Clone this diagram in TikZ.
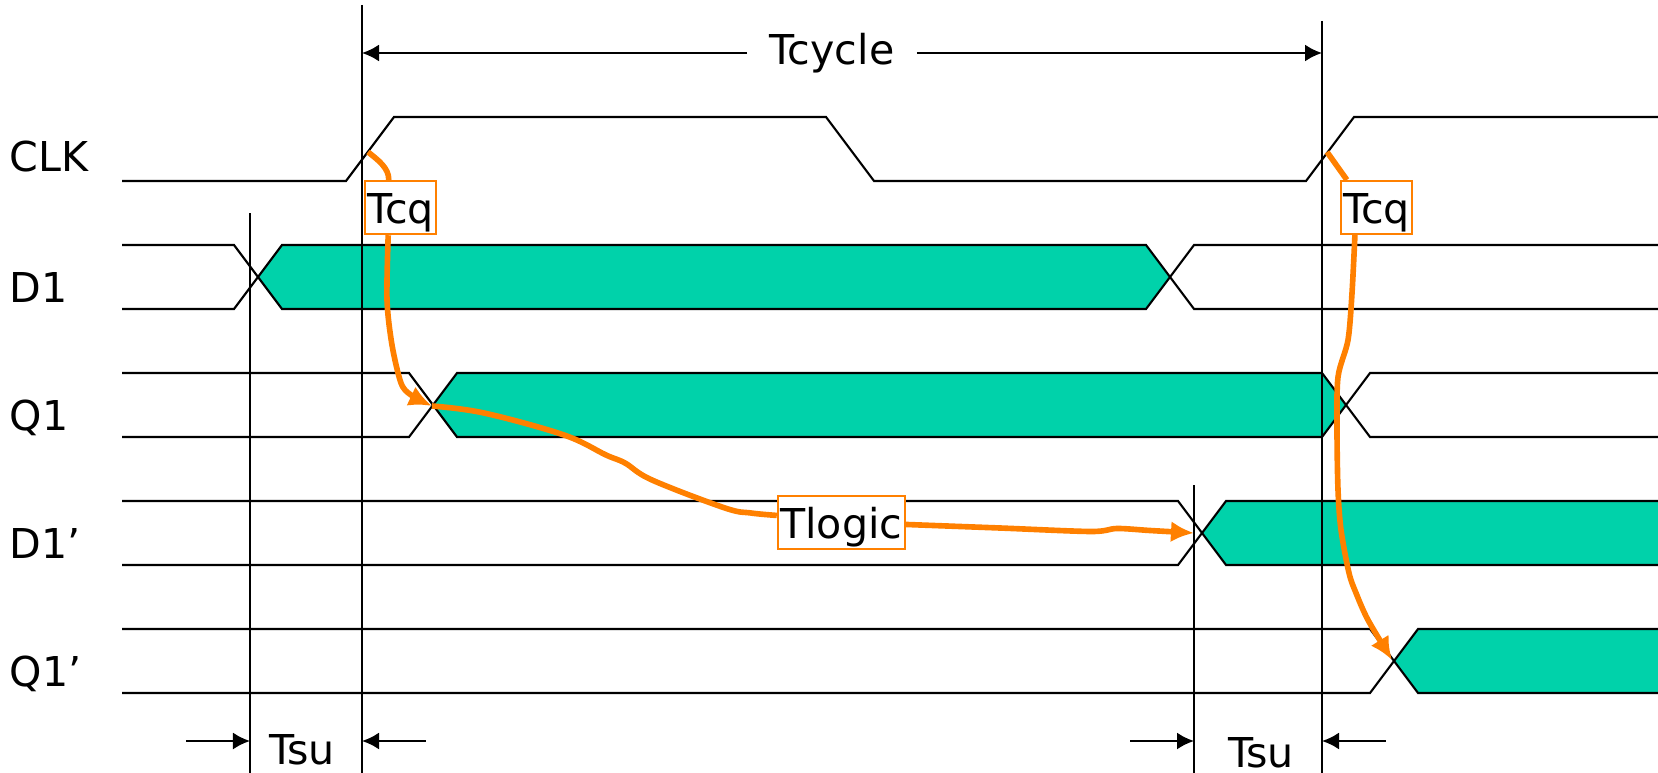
\documentclass[tikz,border=0pt]{standalone}
\usepackage{fontspec}
\setmainfont{DejaVu Sans}
\usetikzlibrary{arrows.meta}
\definecolor{busgreen}{RGB}{0, 210, 170}
\definecolor{delayorange}{RGB}{255, 128, 0}
\tikzset{>={Latex[length=0.17cm, width=0.17cm]}}
\tikzset{
    trace/.style={line width=0.6pt},
    lbl/.style={anchor=base west, inner sep=0pt},
    tbox/.style={draw=delayorange, line width=0.55pt, fill=white, inner xsep=0.025cm, inner ysep=0pt, text height=0.43cm, text depth=0.103cm},
    tpath/.style={delayorange, line width=1.6pt},
    tarrow/.style={-{Latex[length=0.23cm, width=0.21cm]}}
}

\begin{document}
\begin{tikzpicture}[x=0.01cm, y=-0.01cm, font=\fontsize{11.7}{14}\selectfont]
    \useasboundingbox(0, 0)rectangle(1658, 773);
    % bus contents
    \fill[busgreen](258, 277)--(282, 245)--(1146, 245)--(1170, 277)--(1146, 309)--(282, 309)--cycle;
    \fill[busgreen](433, 405)--(457, 373)--(1322, 373)--(1346, 405)--(1322, 437)--(457, 437)--cycle;
    \fill[busgreen](1202, 533)--(1226, 501)--(1658, 501)--(1658, 565)--(1226, 565)--cycle;
    \fill[busgreen](1394, 661)--(1418, 629)--(1658, 629)--(1658, 693)--(1418, 693)--cycle;
    % waveforms
    \draw[trace](122, 181)--(346, 181)--(394, 117)--(826, 117)--(874, 181)--(1306, 181)--(1354, 117)--(1658, 117);
    \draw[trace](122, 245)--(234, 245)--(282, 309)--(1146, 309)--(1194, 245)--(1658, 245);
    \draw[trace](122, 309)--(234, 309)--(282, 245)--(1146, 245)--(1194, 309)--(1658, 309);
    \draw[trace](122, 373)--(409, 373)--(457, 437)--(1322, 437)--(1370, 373)--(1658, 373);
    \draw[trace](122, 437)--(409, 437)--(457, 373)--(1322, 373)--(1370, 437)--(1658, 437);
    \draw[trace](122, 501)--(1178, 501)--(1226, 565)--(1658, 565);
    \draw[trace](122, 565)--(1178, 565)--(1226, 501)--(1658, 501);
    \draw[trace](122, 629)--(1370, 629)--(1418, 693)--(1658, 693);
    \draw[trace](122, 693)--(1370, 693)--(1418, 629)--(1658, 629);
    \node[lbl](clk)at(9, 172){CLK};
    \node[lbl](d1)at(9, 302){D1};
    \node[lbl](q1)at(9, 430){Q1};
    \node[lbl](d1p)at(9, 558){D1’};
    \node[lbl](q1p)at(9, 686){Q1’};
    % clock edges and setup limits
    \draw[trace](362, 5)coordinate(va)--(362, 773);
    \draw[trace](1322, 21)coordinate(vb)--(1322, 773);
    \draw[trace](250, 213)coordinate(sua)--(250, 773);
    \draw[trace](1194, 485)coordinate(sub)--(1194, 773);
    \node[inner xsep=0.22cm](tcyc)at(832, 53){Tcycle};
    \draw[trace, ->](tcyc.west)--(tcyc.west-|va);
    \draw[trace, ->](tcyc.east)--(tcyc.east-|vb);
    \coordinate(dimrow)at(0, 741);
    \node[anchor=base, inner sep=0pt](tsua)at(302, 764){Tsu};
    \node[anchor=base, inner sep=0pt](tsub)at(1261, 767){Tsu};
    \draw[trace, <-](sua|-dimrow)--++(-64, 0);
    \draw[trace, <-](va|-dimrow)--++(64, 0);
    \draw[trace, <-](sub|-dimrow)--++(-64, 0);
    \draw[trace, <-](vb|-dimrow)--++(64, 0);
    % delays
    \node[tbox](tcqa)at(400.5, 207.6){Tcq};
    \node[tbox](tcqb)at(1376.5, 207.5){Tcq};
    \node[tbox](tlogic)at(841.2, 522.2){Tlogic};
    \coordinate(cka)at(368, 152);
    \coordinate(ckb)at(1327, 152);
    \coordinate(q1x)at(432, 406);
    \coordinate(d1x)at(1194, 533);
    \coordinate(q1px)at(1392, 660);
    \draw[tpath](cka)..controls(378, 160)and(389, 168)..(tcqa.113);
    \draw[tpath, tarrow]plot[smooth, tension=0.5]coordinates{(tcqa.246) (387, 300) (392, 345) (401, 383) (411, 395) (q1x)};
    \draw[tpath]plot[smooth, tension=0.6]coordinates{(q1x) (484, 413) (564, 435) (606, 455) (625, 463) (652, 480) (725, 508) (751, 513) (tlogic.174)};
    \draw[tpath, tarrow]plot[smooth, tension=0.5]coordinates{(tlogic.-2) (1000, 528) (1091, 531.5) (1117, 528.5) (1150, 530.5) (d1x)};
    \draw[tpath](ckb)--(tcqb.137);
    \draw[tpath, tarrow]plot[smooth, tension=0.5]coordinates{(tcqb.232) (1352, 293) (1348, 340) (1338, 377) (1337, 430) (1338, 490) (1341, 530) (1349, 573) (1356, 593) (1368, 620) (q1px)};
\end{tikzpicture}
\end{document}
